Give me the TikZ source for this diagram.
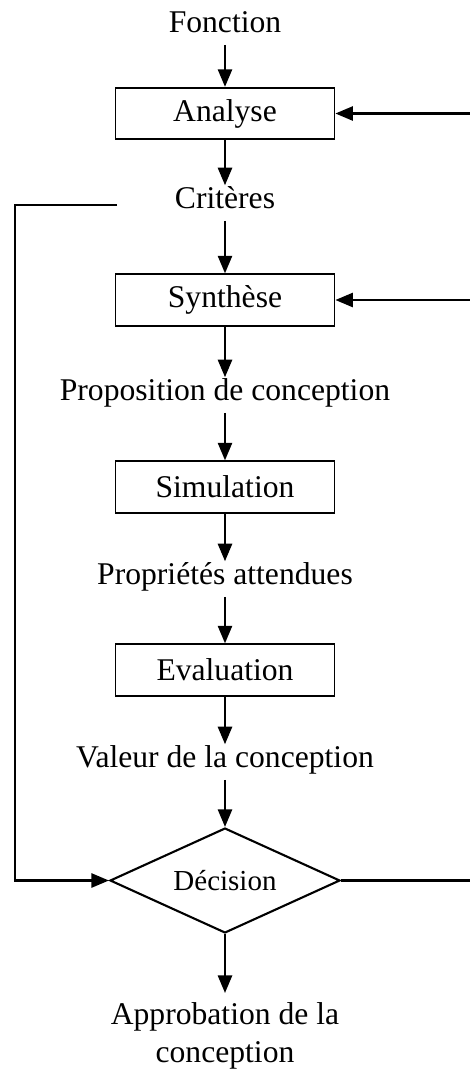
\documentclass[tikz,border=0pt]{standalone}
\usepackage{fontspec}
\setmainfont{Liberation Serif}
\usetikzlibrary{arrows.meta, shapes.geometric}

\begin{document}
\begin{tikzpicture}[x=0.02cm, y=-0.02cm,
  every path/.style={line width=1.4pt},
  txt/.style={inner xsep=0pt, inner ysep=4.8pt, text height=0.78em, text depth=0.14em, font=\fontsize{18}{21.5}\selectfont},
  stepbox/.style={draw, line width=1pt, rectangle, minimum width=4.38cm, minimum height=1.03cm, inner sep=0pt, font=\fontsize{18}{21.5}\selectfont},
  choice/.style={draw, line width=1.2pt, diamond, aspect=2.2, minimum width=4.6cm, minimum height=2.1cm, inner sep=0pt, font=\fontsize{16.5}{19}\selectfont},
  arr/.style={-{Triangle[length=10pt, width=8pt]}}]

\useasboundingbox (0,0) rectangle (470,1073);

% --- main chain ---
\node[txt] (fonction) at (225,27) {Fonction};
\node[stepbox] (analyse) at (225,113.5) {Analyse};
\node[txt] (criteres) at (225,203) {Critères};
\node[stepbox] (synthese) at (225,300) {Synthèse};
\node[txt] (proposition) at (225,395) {Proposition de conception};
\node[stepbox] (simulation) at (225,487) {Simulation};
\node[txt] (proprietes) at (225,579) {Propriétés attendues};
\node[stepbox] (evaluation) at (225,670) {Evaluation};
\node[txt] (valeur) at (225,762) {Valeur de la conception};
\node[choice] (decision) at (225,880.5) {Décision};
\node[inner xsep=0pt, inner ysep=5pt, anchor=north, align=center, font=\fontsize{18}{21.5}\selectfont] (approbation) at (225,993) {Approbation de la\\conception};

\draw[arr] (fonction) -- (analyse);
\draw[arr] (analyse) -- (criteres);
\draw[arr] (criteres) -- (synthese);
\draw[arr] (synthese) -- (proposition);
\draw[arr] (proposition) -- (simulation);
\draw[arr] (simulation) -- (proprietes);
\draw[arr] (proprietes) -- (evaluation);
\draw[arr] (evaluation) -- (valeur);
\draw[arr] (valeur) -- (decision);
\draw[arr] (decision) -- (approbation);

% --- feedback lines ---
\coordinate (critL) at (117,205);
\coordinate (leftC) at (15,205);
\coordinate (rightA) at (470,113.5);
\coordinate (rightS) at (470,300);
\coordinate (rightD) at (470,880.5);

\draw[arr] (critL) -- (leftC) |- (decision.west);
\draw[arr] (rightA) -- (analyse.east);
\draw[arr] (rightS) -- (synthese.east);
\draw (decision.east) -- (rightD);

\end{tikzpicture}
\end{document}
